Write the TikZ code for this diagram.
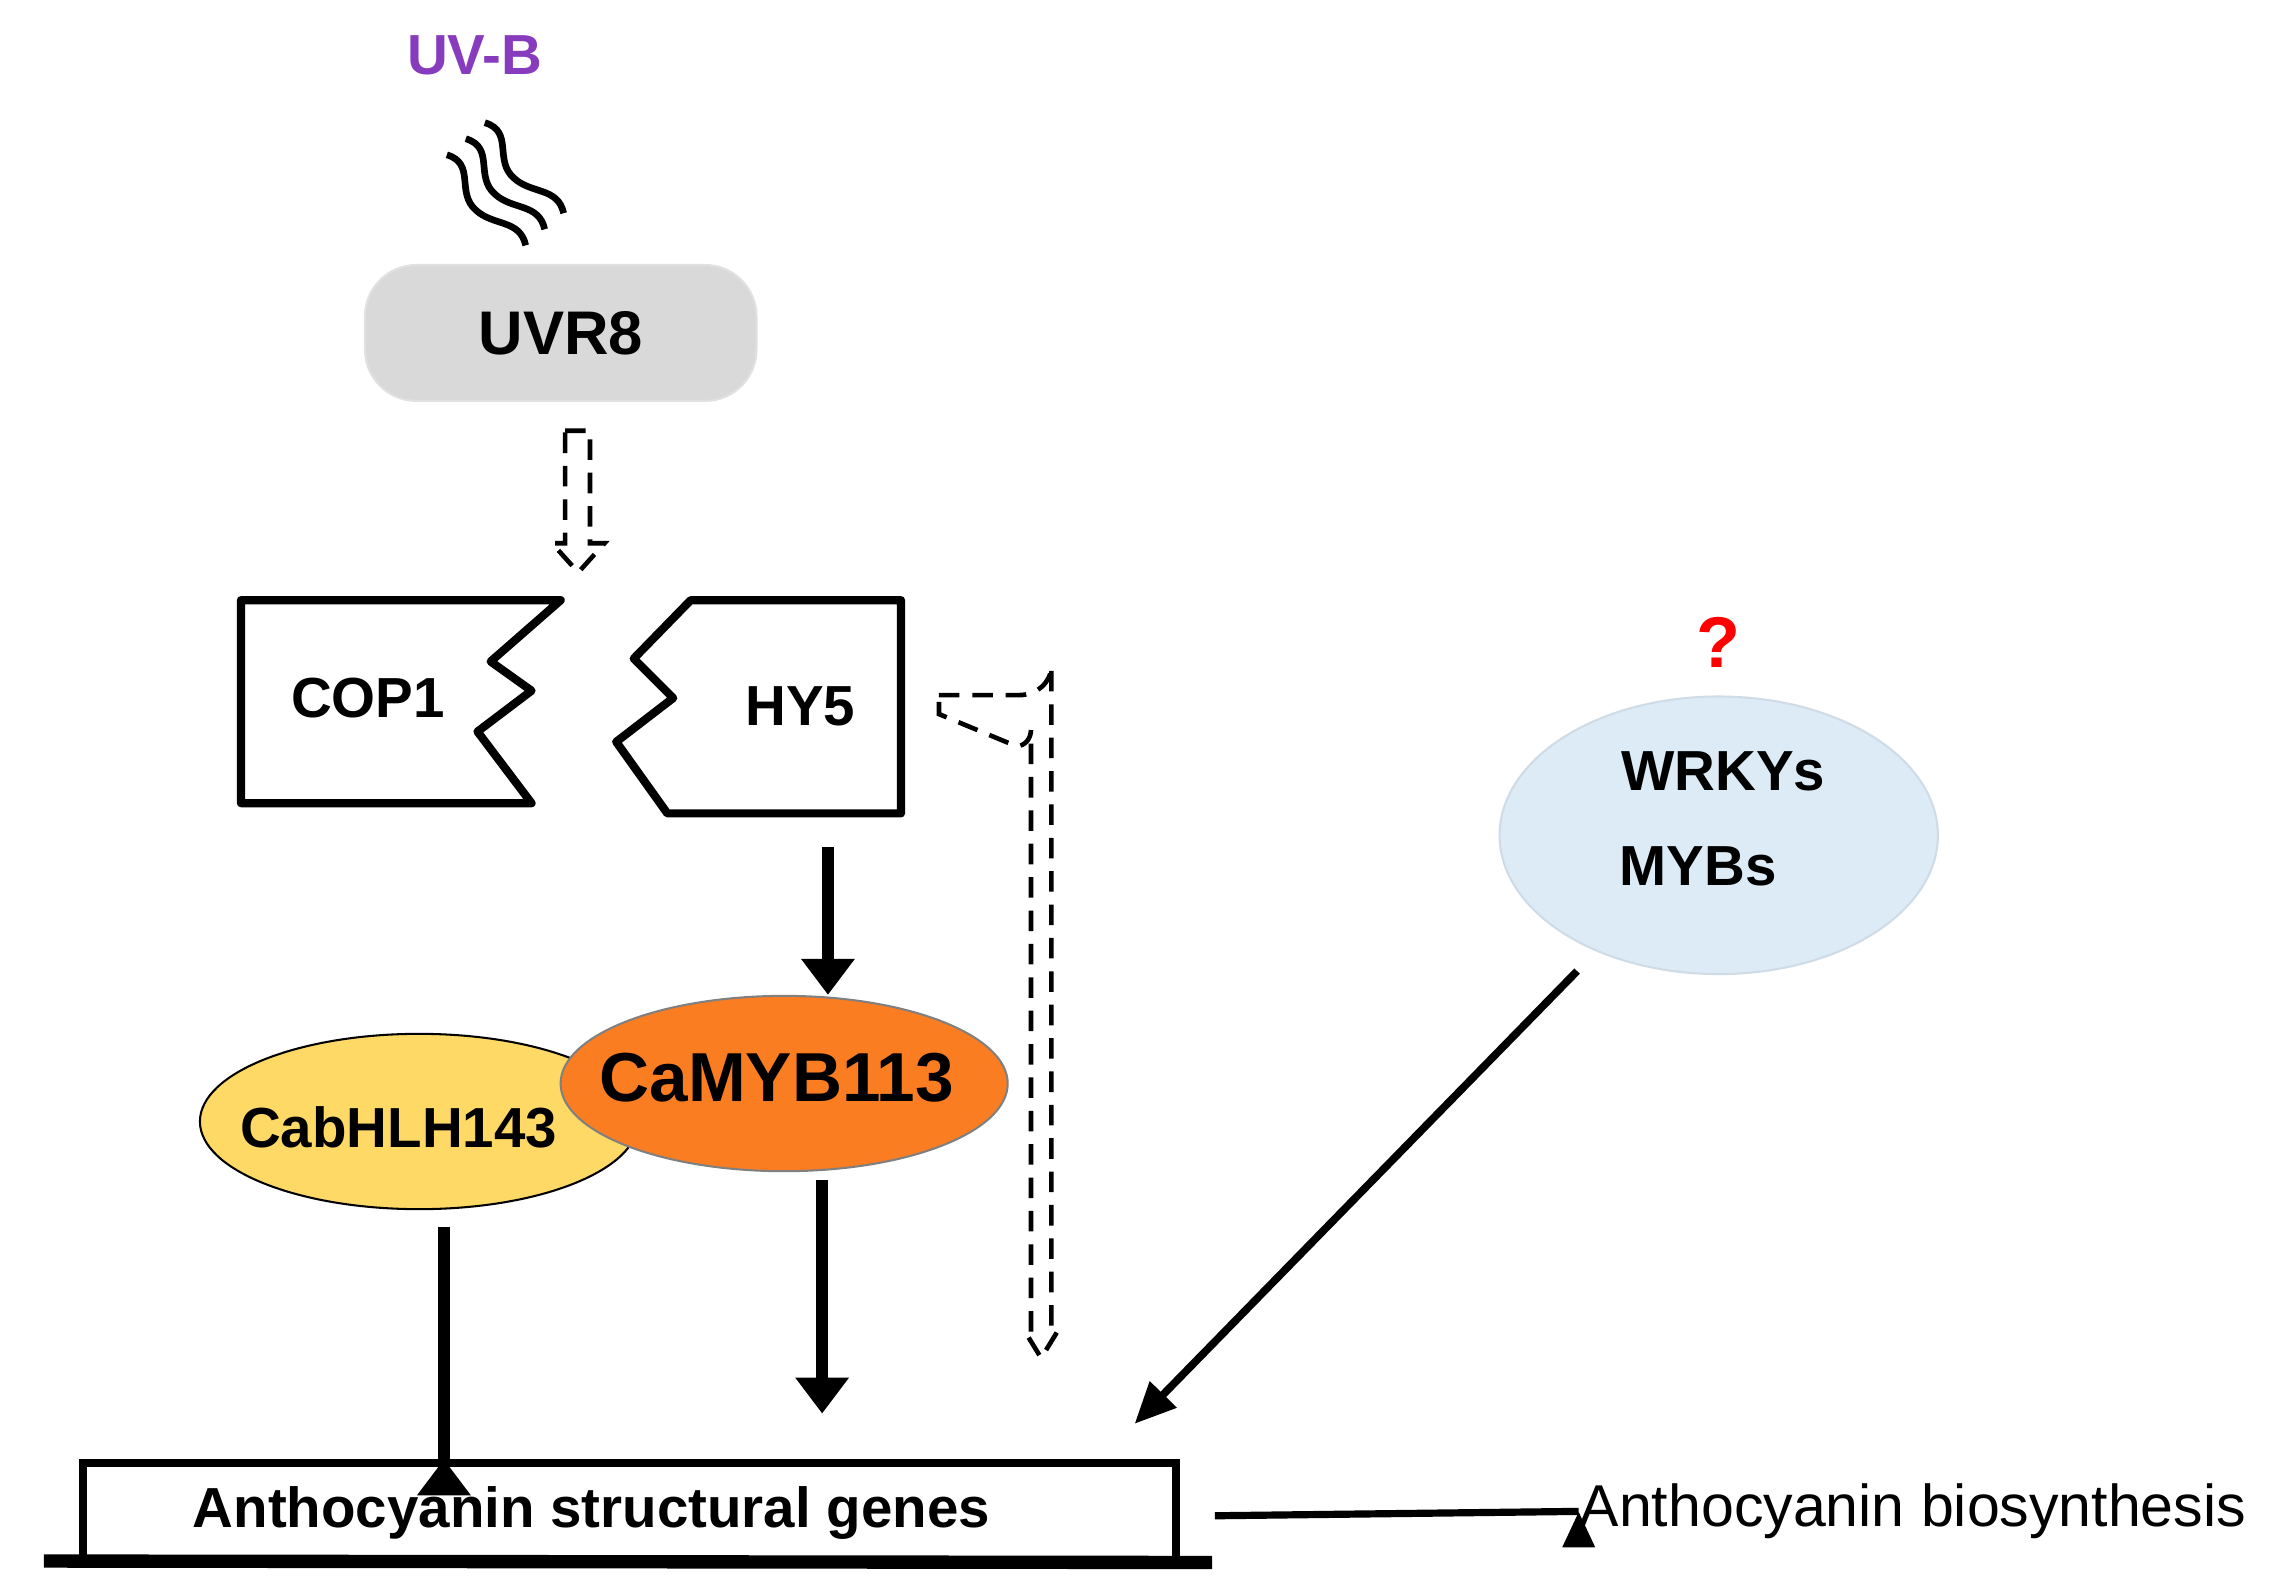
\documentclass[tikz,border=0pt]{standalone}
\usepackage{fontspec}
\setmainfont{Liberation Sans}
\usetikzlibrary{arrows.meta}
\usetikzlibrary{positioning}
\usetikzlibrary{shapes.geometric}

\definecolor{uvpurple}{RGB}{135,60,190}
\definecolor{boxgray}{RGB}{217,217,217}
\definecolor{bhlhyellow}{RGB}{255,217,102}
\definecolor{myborange}{RGB}{250,125,34}
\definecolor{wrkyblue}{RGB}{221,235,247}

\begin{document}
\begin{tikzpicture}
    [
    x=0.01cm, y=-0.01cm,
    label/.style={font=\bfseries\fontsize{11}{13}\selectfont, inner sep=0pt},
    factor/.style={ellipse, inner sep=0pt},
    thick arrow/.style={line width=2.4pt, -{Triangle[width=10pt,length=7pt]}},
    hollow/.style={dashed, line width=0.9pt, dash pattern=on 4pt off 2.5pt},
    ]
    \useasboundingbox (0,0) rectangle (1560,1090);

    % light and receptor
    \node (uvb) at (325,38) [label, text=uvpurple] {UV-B};
    \foreach \d in {0,1,2}
      \draw [line width=1.3pt, shift={(-13*\d,11*\d)}]
        (332,84) .. controls (352,90) and (338,110) .. (352,122)
                 .. controls (364,133) and (382,128) .. (386,146);
    \node (uvr) at (384,228) [draw=boxgray!80!white, fill=boxgray, rounded corners=10pt,
      minimum width=268\pgflinewidth, minimum width=2.68cm, minimum height=0.93cm] {};
    \node at (uvr) [label, font=\bfseries\fontsize{12}{14}\selectfont] {UVR8};

    \draw [hollow] (387,295) -- (404,295) -- (404,372) -- (414,372) -- (396,392)
      -- (378,372) -- (387,372) -- cycle;

    % COP1 and HY5
    \draw [line width=1.6pt, line join=round]
      (165,411) -- (384,411) -- (336,453) -- (364,473) -- (327,501) -- (364,550)
      -- (165,550) -- cycle;
    \node (cop) at (252,478) [label] {COP1};
    \draw [line width=1.6pt, line join=round]
      (473,411) -- (617,411) -- (617,557) -- (457,557) -- (422,508) -- (461,478)
      -- (434,451) -- cycle;
    \node (hy) at (548,484) [label] {HY5};

    \draw [hollow] (643,476) -- (698,476) arc (90:0:22 and 20) -- (720,912) -- (724,912)
      -- (713,930) -- (702,912) -- (706,912) -- (706,500) arc (0:90:10 and 11)
      -- (643,489) -- cycle;

    % transcription factors
    \node (bhlh) at (287,768) [factor, draw, fill=bhlhyellow,
      minimum width=3cm, minimum height=1.2cm] {};
    \node at (273,772) [label] {CabHLH143};
    \node (myb) at (537,742) [factor, draw=gray, fill=myborange,
      minimum width=3.06cm, minimum height=1.2cm] {};
    \node at (532,738) [label, font=\bfseries\fontsize{13.5}{15}\selectfont] {CaMYB113};

    \node (wrky) at (1177,572) [factor, draw=wrkyblue!85!gray, fill=wrkyblue,
      minimum width=3cm, minimum height=1.9cm] {};
    \node (wr) at (1180,528) [label] {WRKYs};
    \node (mb) at (1163,593) [label] {MYBs};
    \node (q) at (1177,440) [label, text=red, font=\bfseries\fontsize{14}{16}\selectfont] {?};

    % target genes
    \node (genes) at (431,1035) [draw, line width=1.5pt, minimum width=7.48cm,
      minimum height=0.66cm] {};
    \node at (405,1036) [label] {Anthocyanin structural genes};
    \coordinate (ul) at (30,1069);
    \coordinate (ur) at (830,1070);
    \draw [line width=2.6pt] (ul) -- (ur);
    \node (bio) at (1310,1035) [inner sep=0pt, font=\fontsize{11.5}{13}\selectfont]
      {Anthocyanin biosynthesis};

    \coordinate (hyb) at (567,580);
    \coordinate (bhb) at (304,840);
    \coordinate (myd) at (563,808);
    \draw [thick arrow] (hyb) -- (myb.north -| hyb);
    \draw [thick arrow] (bhb) -- (bhb |- genes.north) ++(0,0);
    \draw [thick arrow] (myd) -- (563,968);
    \coordinate (wk) at (1080,665);
    \draw [line width=1.5pt, -{Triangle[width=7pt,length=8pt]}] (wk) -- (777,975);
    \draw [line width=1.4pt, -{Triangle[width=6pt,length=7pt]}] (832,1038) -- (bio.west) ++(0,0);
\end{tikzpicture}
\end{document}
